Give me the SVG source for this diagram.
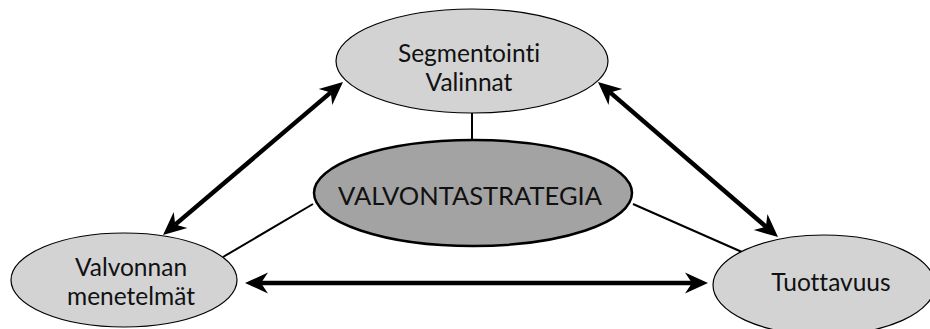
<svg xmlns="http://www.w3.org/2000/svg" width="930" height="329" viewBox="0 0 930 329">
<style>
.node-light{fill:#d3d3d3;stroke:#000;stroke-width:1.2}
.node-dark{fill:#a3a3a3;stroke:#000;stroke-width:2.5}
.lbl{font-family:Lato,"Liberation Sans",sans-serif;font-size:24.5px;fill:#111;text-anchor:middle;font-variant-ligatures:none}
.big{font-size:25.5px}
.thin{stroke:#000;stroke-width:2;fill:none}
.thick{stroke:#000;stroke-width:4.5;fill:none;marker-start:url(#ah);marker-end:url(#ah)}
</style>
<defs>
<marker id="ah" markerUnits="userSpaceOnUse" viewBox="-8 -12 26 24" refX="0" refY="0" markerWidth="26" markerHeight="24" orient="auto-start-reverse" overflow="visible">
<path d="M16,0 L-7,-10.5 L0,0 L-7,10.5 Z" fill="#000"/>
</marker>
</defs>
<g id="connectors">
<line class="thin" x1="472" y1="113" x2="472" y2="141"/>
<line class="thin" x1="313" y1="204" x2="223" y2="257"/>
<line class="thin" x1="633" y1="204" x2="742" y2="252"/>
<line class="thick" x1="175.2" y1="224.6" x2="330.8" y2="92.4"/>
<line class="thick" x1="610.1" y1="92.4" x2="765.9" y2="226.6"/>
<line class="thick" x1="261" y1="283" x2="692" y2="283"/>
</g>
<g id="node-segmentointi">
<ellipse class="node-light" cx="472" cy="61" rx="136" ry="52"/>
<text class="lbl" x="469" y="62">Segmentointi</text>
<text class="lbl" x="469" y="91">Valinnat</text>
</g>
<g id="node-valvontastrategia">
<ellipse class="node-dark" cx="473" cy="193" rx="159" ry="53"/>
<text class="lbl big" x="470" y="205">VALVONTASTRATEGIA</text>
</g>
<g id="node-valvonnan">
<ellipse class="node-light" cx="124" cy="280" rx="113" ry="47"/>
<text class="lbl" x="131" y="276">Valvonnan</text>
<text class="lbl" x="131" y="305">menetelmät</text>
</g>
<g id="node-tuottavuus">
<ellipse class="node-light" cx="824" cy="285" rx="111" ry="50"/>
<text class="lbl" x="831" y="291">Tuottavuus</text>
</g>
</svg>
